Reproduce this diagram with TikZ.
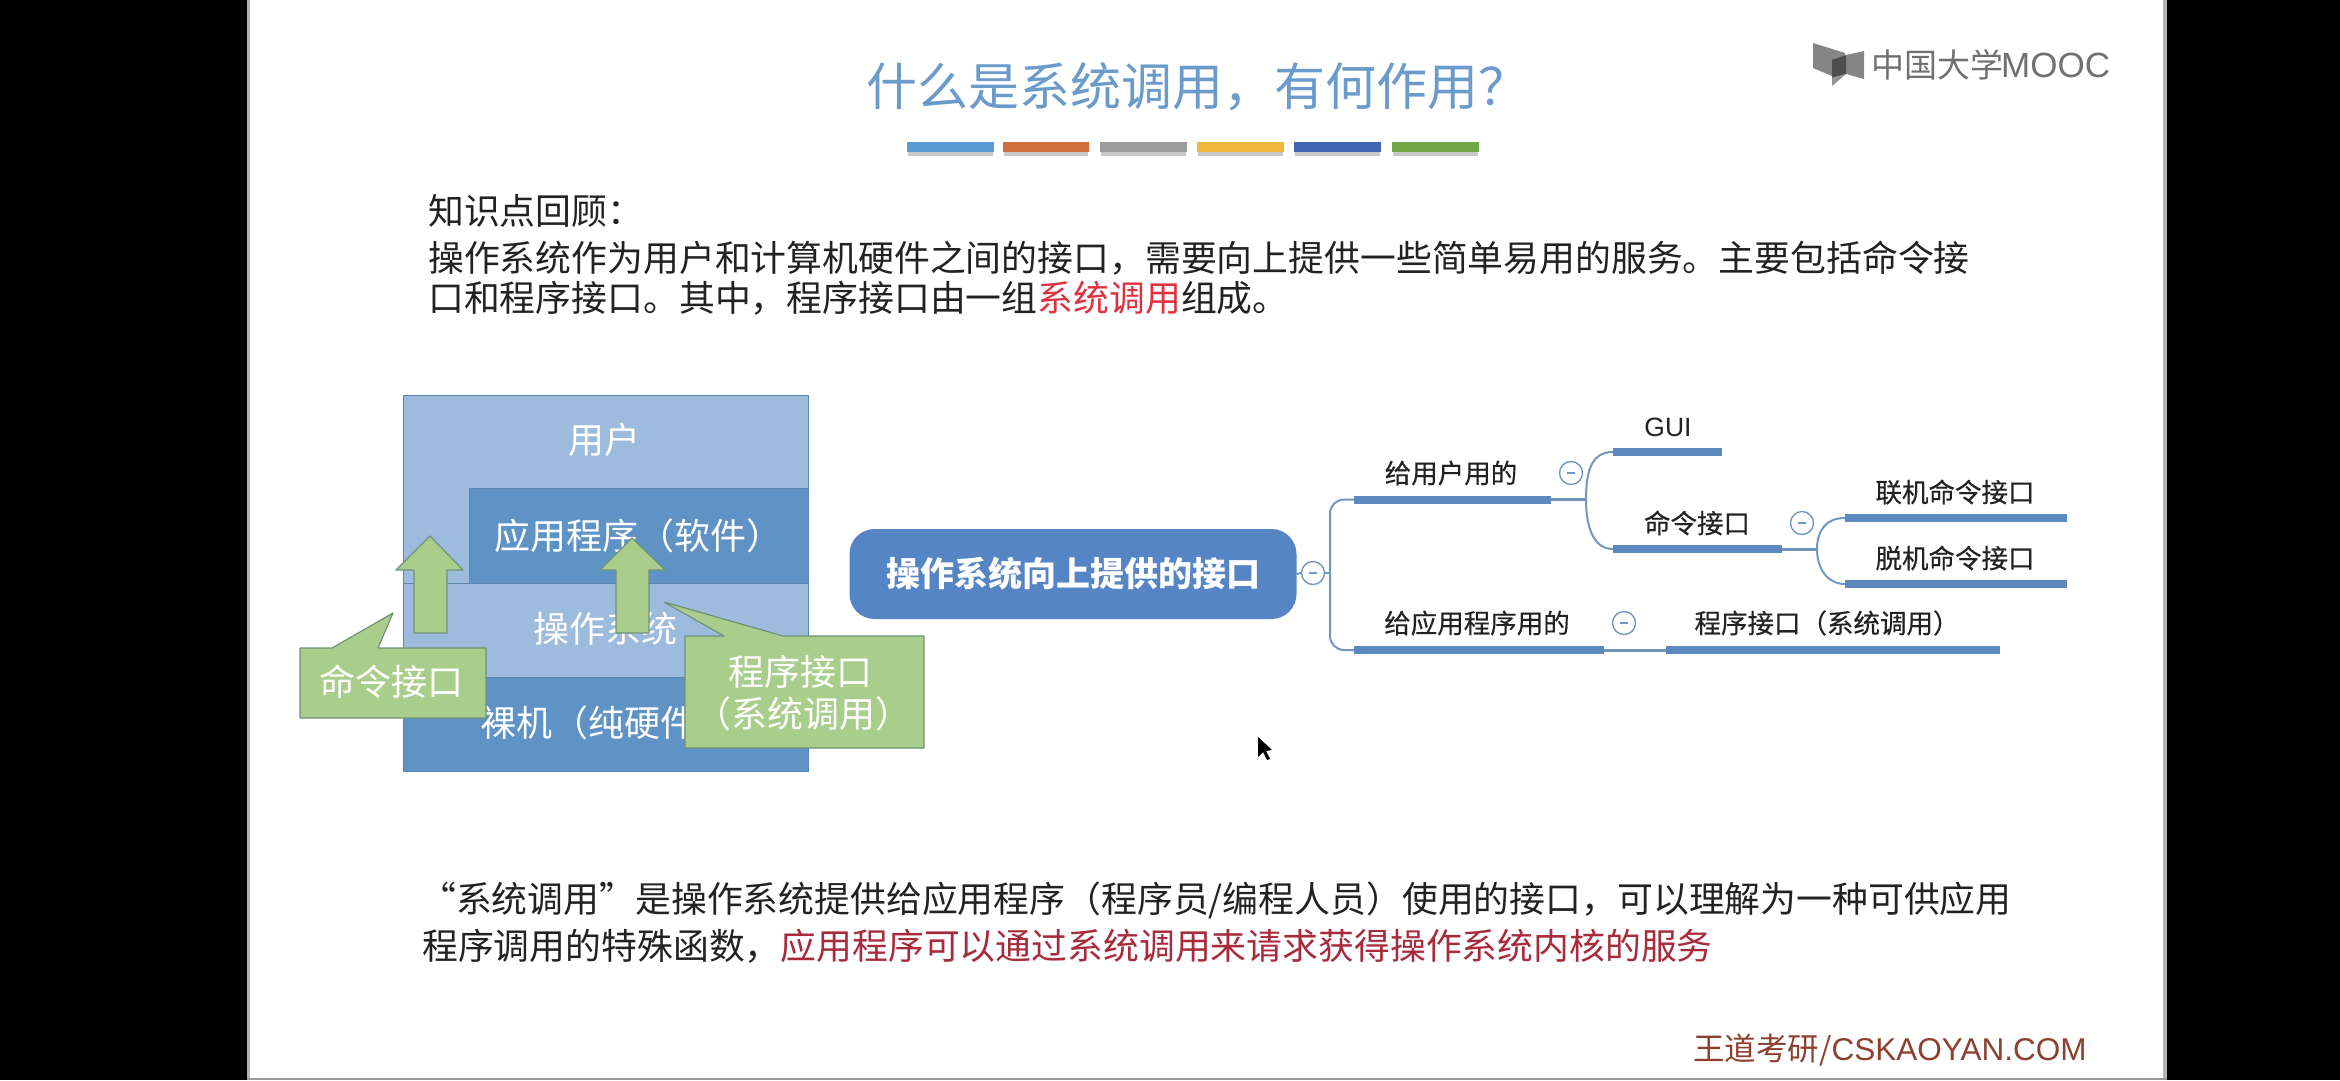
\documentclass[tikz,border=0pt]{standalone}
\usepackage{fontspec}
\setmainfont{Noto Sans CJK SC}
\newfontfamily\latinfam{Liberation Sans}
\newfontfamily\topicfam[FakeBold=0.4]{Noto Sans CJK SC}
\newcommand{\pxsize}[1]{\fontsize{#1}{#1}\selectfont}
\definecolor{lightblock}{HTML}{9DBBDC}
\definecolor{darkblock}{HTML}{5F93C6}
\definecolor{blockedge}{HTML}{5F88B0}
\definecolor{greenfill}{HTML}{A9CE8B}
\definecolor{greenedge}{HTML}{6F9278}
\definecolor{rootblue}{HTML}{5585C4}
\definecolor{barblue}{HTML}{5B88BF}
\definecolor{linkblue}{HTML}{7098C4}
\definecolor{titleblue}{HTML}{6A9BCB}
\definecolor{bodyink}{HTML}{222222}
\definecolor{keyred}{HTML}{E0313F}
\definecolor{deepred}{HTML}{A82A3C}
\definecolor{markbrown}{HTML}{8E4030}
\definecolor{logogray}{HTML}{707070}
\tikzset{
  x=1pt,y=-1pt,
  block/.style={draw=blockedge,line width=1pt},
  blocktext/.style={text=white,inner sep=0,font=\pxsize{36}},
  upshape/.style={fill=greenfill,draw=greenedge,line width=1.2pt,line join=round},
  greentext/.style={text=white,inner sep=0,font=\pxsize{36},align=center},
  bodyline/.style={anchor=west,inner sep=0,text=bodyink,font=\pxsize{35.85}},
  bar/.style={fill=barblue,inner sep=0,minimum height=8pt,rectangle},
  topic/.style={inner sep=0,text=bodyink,font=\topicfam\pxsize{26.5}},
  toggle/.style={circle,draw=linkblue,fill=white,line width=1.4pt,minimum size=23pt,inner sep=0,label={[inner sep=0,fill=linkblue,minimum width=8pt,minimum height=1.6pt]center:}},
  link/.style={draw=linkblue,line width=2pt},
  stub/.style={draw=linkblue!80!gray,line width=3pt},
}
\begin{document}
\begin{tikzpicture}
\useasboundingbox (0,0) rectangle (2340,1080);
\fill[black] (0,0) rectangle (2340,1080);
\fill[white] (250,0) rectangle (2163,1078);
\fill[gray!60] (247,0) rectangle (250,1078);
\fill[gray!60] (2163,0) rectangle (2167,1078);
\fill[gray!80] (247,1078) rectangle (2167,1080);

% title
\node[anchor=west,inner sep=0,text=titleblue,font=\pxsize{51}] (title) at (866,87) {什么是系统调用，有何作用？};
\foreach \xa/\xb/\col [count=\i] in {907/994/5B9BD5,1003/1089/D2703D,1100/1187/9C9C9C,1197/1284/EFB73C,1294/1381/4168B0,1392/1479/70A845}{
  \fill[black!22] (\xa+1,150) rectangle (\xb-1,156);
  \definecolor{chipcol}{HTML}{\col}
  \fill[chipcol] (\xa,142) rectangle (\xb,152);
}

% logo
\fill[logogray!85] (1813,43) -- (1845,53) -- (1845,72) -- (1832,76) -- (1813,68) -- cycle;
\fill[logogray!85] (1846,55) -- (1864,51) -- (1864,79) -- (1846,74) -- cycle;
\fill[logogray!70!black] (1832,60) -- (1846,55) -- (1846,74) -- (1832,78) -- cycle;
\fill[logogray!75] (1832,78) -- (1846,74) -- (1832,86) -- cycle;
\node[anchor=west,inner sep=0,text=logogray,font=\pxsize{33}] (logocn) at (1871,65) {中国大学};
\node[anchor=west,inner sep=0,text=logogray,font=\latinfam\pxsize{35}] (logolat) at (2001,65) {MOOC};

% intro text
\node[bodyline] (t1) at (428,211) {知识点回顾：};
\node[bodyline] (t2) at (428,258) {操作系统作为用户和计算机硬件之间的接口，需要向上提供一些简单易用的服务。主要包括命令接};
\node[bodyline] (t3) at (428,298) {口和程序接口。其中，程序接口由一组\textcolor{keyred}{系统调用}组成。};

% layered stack
\draw[block,fill=lightblock] (403,395) rectangle (808,771);
\draw[block,fill=lightblock] (403,583) rectangle (808,677);
\draw[block,fill=darkblock] (403,677) rectangle (808,771);
\draw[block,fill=darkblock] (469,488) rectangle (808,583);
\node[blocktext] (user) at (604,440) {用户};
\node[blocktext] (app) at (638,536) {应用程序（软件）};
\node[blocktext] (os) at (605,629) {操作系统};
\node[blocktext,anchor=west] (hw) at (480,723) {裸机（纯硬件};

% up arrows
\draw[upshape] (430,536) -- (463,570) -- (447,570) -- (447,633) -- (414,633) -- (414,570) -- (396,570) -- cycle;
\draw[upshape] (632,538) -- (665,570) -- (649,570) -- (649,633) -- (616,633) -- (616,570) -- (600,570) -- cycle;

% callouts
\draw[upshape] (300,648) -- (332,648) -- (393,613) -- (378,648) -- (486,648) -- (486,718) -- (300,718) -- cycle;
\draw[upshape] (685,636) -- (724,636) -- (664,602) -- (783,636) -- (924,636) -- (924,748) -- (685,748) -- cycle;
\node[greentext] (cmdcall) at (391,682) {命令接口};
\node[greentext] (prog1) at (800,672) {程序接口};
\node[greentext] (prog2) at (803,714) {（系统调用）};

% mind map
\node[rectangle,rounded corners=25pt,fill=rootblue,minimum width=447pt,minimum height=90pt,inner sep=0,text=white,font=\bfseries\pxsize{34}] (root) at (1073,574) {\raisebox{-3pt}{操作系统向上提供的接口}};
\node[toggle] (t0) at (1313,573) {};
\node[toggle] (tu) at (1571,473) {};
\node[toggle] (tc) at (1802,523) {};
\node[toggle] (ta) at (1624,623) {};

\node[bar,minimum width=197pt] (busr) at (1452.5,499.5) {};
\node[bar,minimum width=250pt] (bapp) at (1479,650) {};
\node[bar,minimum width=109pt] (bgui) at (1667.5,452) {};
\node[bar,minimum width=169pt] (bcmd) at (1697.5,549) {};
\node[bar,minimum width=222pt] (bon) at (1956,518) {};
\node[bar,minimum width=222pt] (boff) at (1956,584) {};
\node[bar,minimum width=334pt] (bprog) at (1833,650) {};

\coordinate (j0) at (1330,573);
\coordinate (j1) at (1586,499.5);
\coordinate (j2) at (1817,549);

\draw[link] (root.east) -- (t0.west);
\draw[link] (t0.east) -- (j0);
\draw[link,rounded corners=14pt] (j0) |- (busr.west);
\draw[link,rounded corners=14pt] (j0) |- (bapp.west);
\draw[stub] (busr.east) -- (j1);
\draw[link] (j1) .. controls (1586,468) and (1593,452) .. (bgui.west);
\draw[link] (j1) .. controls (1586,530) and (1595,549) .. (bcmd.west);
\draw[stub] (bcmd.east) -- (j2);
\draw[link] (j2) .. controls (1817,532) and (1825,518) .. (bon.west);
\draw[link] (j2) .. controls (1817,568) and (1827,584) .. (boff.west);
\draw[stub] (bapp.east) -- (bprog.west);

\node[topic] (lusr) at (1451,473) {给用户用的};
\node[topic] (lgui) at (1668,427) {\latinfam GUI};
\node[topic] (lcmd) at (1697,523) {命令接口};
\node[topic] (lon) at (1955,492) {联机命令接口};
\node[topic] (loff) at (1955,558) {脱机命令接口};
\node[topic] (lapp) at (1477,623) {给应用程序用的};
\node[topic] (lprog) at (1827,623) {程序接口（系统调用）};

% closing text
\node[bodyline] (b1) at (420,900) {“系统调用”是操作系统提供给应用程序（程序员/编程人员）使用的接口，可以理解为一种可供应用};
\node[bodyline] (b2) at (422,946) {程序调用的特殊函数，\textcolor{deepred}{应用程序可以通过系统调用来请求获得操作系统内核的服务}};

% watermark
\node[anchor=west,inner sep=0,text=markbrown,font=\pxsize{31.5}] (mark) at (1693,1050) {王道考研/\latinfam CSKAOYAN.COM};

% pointer
\fill[black] (1258,737) -- (1258,757) -- (1263,752) -- (1267,760) -- (1270,759) -- (1266,751) -- (1272,750) -- cycle;
\end{tikzpicture}
\end{document}
